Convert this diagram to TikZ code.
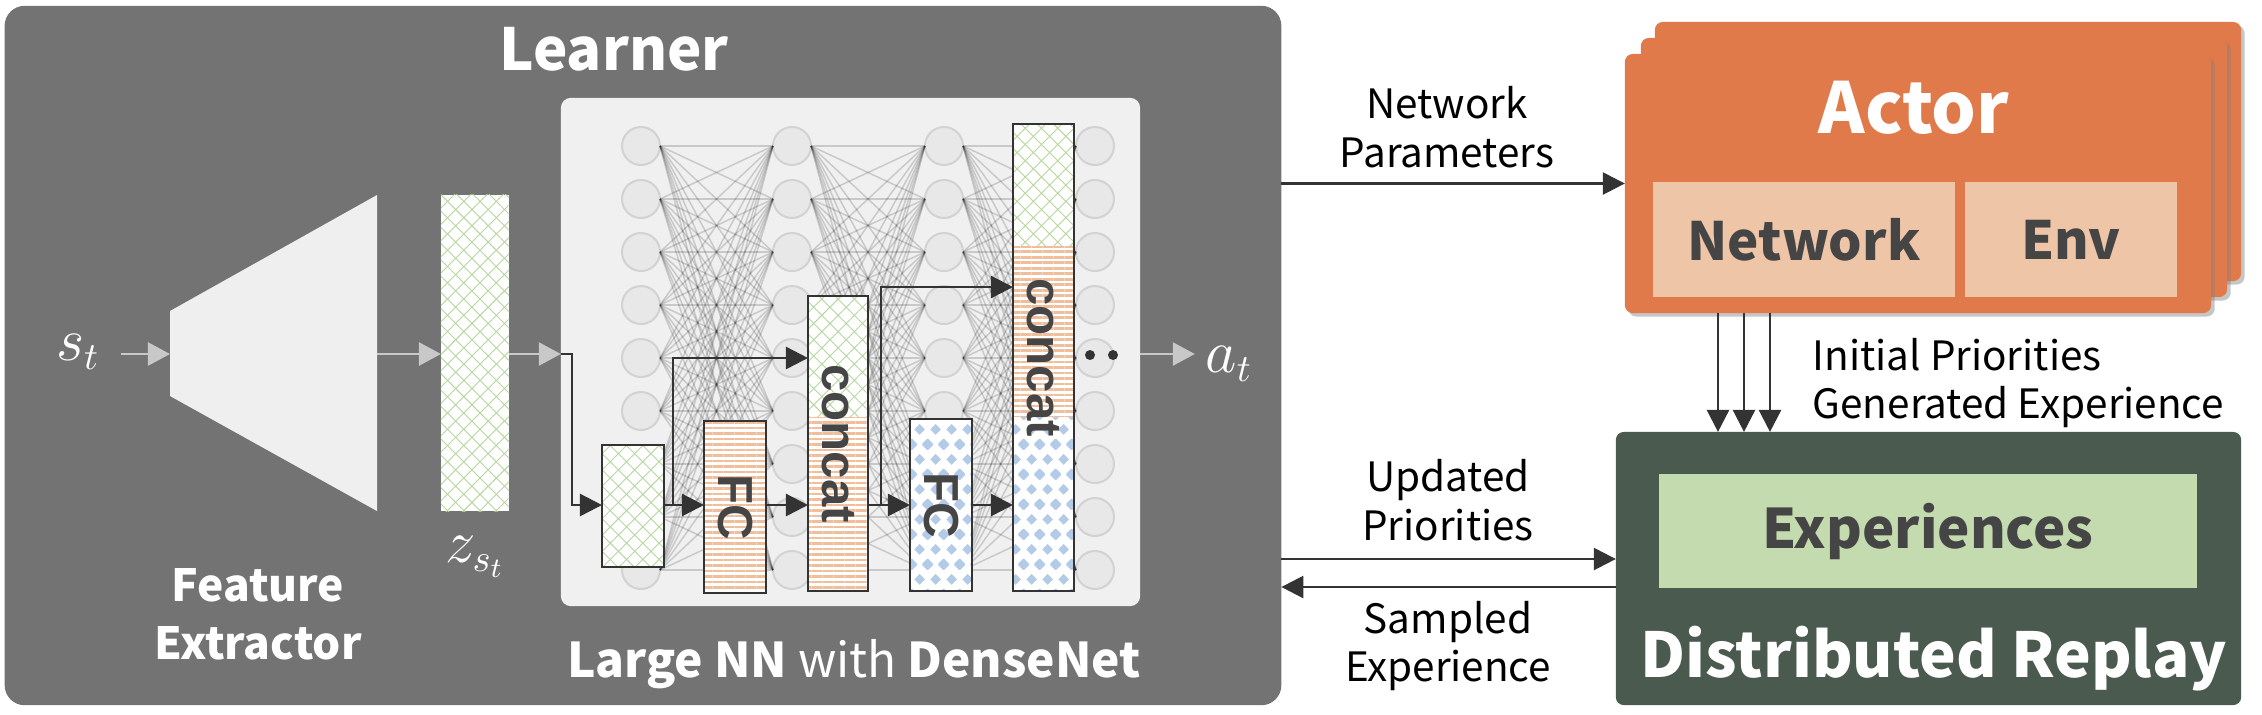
\documentclass[tikz,border=0pt]{standalone}
\usepackage{fontspec}
\setmainfont{Noto Sans CJK JP}
\newfontfamily\boxfont{Liberation Sans}
\usetikzlibrary{arrows.meta,patterns.meta,shadows,positioning}

\definecolor{learnc}{HTML}{737373}
\definecolor{innerc}{HTML}{F0F0F0}
\definecolor{trapc}{HTML}{EFEFEF}
\definecolor{garrc}{HTML}{C8C8C8}
\definecolor{neurc}{HTML}{E8E8E8}
\definecolor{neurb}{HTML}{D2D2D2}
\definecolor{darkc}{HTML}{333333}
\definecolor{txtg}{HTML}{454545}
\definecolor{latc}{HTML}{B6D69E}
\definecolor{stripc}{HTML}{F0BE9B}
\definecolor{bluec}{HTML}{B4CBE8}
\definecolor{actorc}{HTML}{E07A4B}
\definecolor{actorin}{HTML}{EFC5A7}
\definecolor{replc}{HTML}{4A5A4F}
\definecolor{expc}{HTML}{C3DBAE}

\newcommand\mkdia[2]{%
  \pgfpathmoveto{\pgfpoint{#1mm}{#2mm-0.55mm}}%
  \pgfpathlineto{\pgfpoint{#1mm+0.55mm}{#2mm}}%
  \pgfpathlineto{\pgfpoint{#1mm}{#2mm+0.55mm}}%
  \pgfpathlineto{\pgfpoint{#1mm-0.55mm}{#2mm}}%
  \pgfpathclose}
\pgfdeclarepattern{
  name=bluedia,
  type=uncolored,
  bottom left={\pgfpoint{0mm}{0mm}},
  top right={\pgfpoint{1.6mm}{3.0mm}},
  tile size={\pgfpoint{1.6mm}{3.0mm}},
  code={\mkdia{0.8}{1.5}\mkdia{0}{0}\mkdia{1.6}{0}\mkdia{0}{3.0}\mkdia{1.6}{3.0}\pgfusepath{fill}}
}

\tikzset{
  panel/.style={inner sep=0pt, outer sep=0pt},
  neuron/.style={circle, minimum size=0.38cm, inner sep=0pt, outer sep=0pt, fill=neurc, draw=neurb, line width=0.02cm},
  wire/.style={draw=black, opacity=0.16, line width=0.015cm},
  lattice/.style={fill=white,
    postaction={pattern={Lines[angle=45,distance=0.115cm,line width=0.009cm]}, pattern color=latc},
    postaction={pattern={Lines[angle=-45,distance=0.115cm,line width=0.009cm]}, pattern color=latc}},
  stripes/.style={fill=white, postaction={pattern={Lines[angle=0,distance=0.055cm,line width=0.027cm]}, pattern color=stripc}},
  diamonds/.style={fill=white, postaction={pattern=bluedia, pattern color=bluec}},
  layer/.style={draw=darkc, line width=0.025cm, inner sep=0pt, outer sep=0pt, minimum width=0.62cm, text=txtg, font=\boxfont\bfseries\fontsize{14}{14}\selectfont},
  darr/.style={draw=darkc, line width=0.025cm, -{Triangle[length=0.22cm,width=0.22cm]}},
  garr/.style={draw=garrc, line width=0.025cm, -{Triangle[length=0.22cm,width=0.23cm]}},
  title/.style={text=white, font=\bfseries\fontsize{16.5}{18}\selectfont, inner sep=0pt},
  mathlbl/.style={text=white, font=\fontsize{16}{18}\selectfont, inner sep=0.1cm},
  flow/.style={font=\fontsize{11.5}{13.9}\selectfont, align=center, inner sep=0pt},
  actorbox/.style={fill=actorc, rounded corners=0.08cm, minimum width=5.86cm, minimum height=2.59cm, inner sep=0pt, outer sep=0pt,
    drop shadow={shadow xshift=0.035cm, shadow yshift=-0.035cm, opacity=0.45}},
  inbox/.style={inner sep=0pt, outer sep=0pt, minimum height=1.15cm, text=txtg, font=\bfseries\fontsize{15}{16}\selectfont},
}

\begin{document}
\begin{tikzpicture}[x=0.01cm, y=-0.01cm]
\useasboundingbox (0,0) rectangle (2262,714);

% learner
\node[panel, fill=learnc, rounded corners=0.2cm, minimum width=12.76cm, minimum height=6.99cm] (learner) at (643,355.5) {};
\node[title, anchor=base] (learnertitle) at (614,70) {Learner};
\node[panel, fill=innerc, rounded corners=0.1cm, minimum width=5.79cm, minimum height=5.08cm] (inner) at (850.5,352) {};

% feature extractor
\fill[trapc] (170,311) -- (377,195) -- (377,511) -- (170,396) -- cycle;
\coordinate (fein) at (170,354);
\coordinate (feout) at (377,354);
\node[panel, lattice, minimum width=0.68cm, minimum height=3.16cm] (z) at (475,353) {};
\node[mathlbl] (zlbl) at (475,557) {$z_{s_t}$};
\node[title, font=\bfseries\fontsize{12.6}{16.5}\selectfont, align=center] (fetitle) at (258,614) {Feature\\Extractor};
\node[mathlbl] (st) at (78,352) {$s_t$};
\draw[garr] ([xshift=0.1cm]st.east |- fein) -- (fein);
\draw[garr] (feout) -- (z.west |- feout);
\draw[garr] (z.east |- feout) -- (inner.west |- feout);

% densenet
\foreach \c/\x in {1/641,2/792,3/944,4/1095}
  \foreach \r in {1,...,9}
    \node[neuron] (n-\c-\r) at (\x,{146+53*(\r-1)}) {};
\foreach \a/\b in {1/2,2/3,3/4}
  \foreach \i in {1,...,9}
    \foreach \j in {1,...,9}
      \draw[wire] (n-\a-\i.east) -- (n-\b-\j.west);

\fill[lattice] (602,445) rectangle (664,567);
\fill[stripes] (704,421) rectangle (766,593);
\fill[lattice] (808,296) rectangle (868,417);
\fill[stripes] (808,417) rectangle (868,591);
\fill[diamonds] (910,419) rectangle (972,591);
\fill[lattice] (1013,124) rectangle (1074,246);
\fill[stripes] (1013,246) rectangle (1074,417);
\fill[diamonds] (1013,417) rectangle (1074,591);

\node[layer, minimum height=1.22cm] (g1) at (633,506) {};
\node[layer, minimum height=1.72cm] (fc1) at (735,507) {\rotatebox{-90}{FC}};
\node[layer, minimum width=0.60cm, minimum height=2.95cm] (c1) at (838,443.5) {\rotatebox{-90}{concat}};
\node[layer, minimum height=1.72cm] (fc2) at (941,505) {\rotatebox{-90}{FC}};
\node[layer, minimum width=0.61cm, minimum height=4.67cm] (c2) at (1043.5,357.5) {\rotatebox{-90}{concat}};

\coordinate (mainrow) at (0,505);
\draw[darr] (inner.west |- feout) -- ++(11,0) |- (g1.west |- mainrow);
\draw[darr] (g1.east |- mainrow) -- (fc1.west |- mainrow);
\draw[darr] (g1.east |- mainrow) -- ++(9,0) |- (c1.west |- n-2-5);
\draw[darr] (fc1.east |- mainrow) -- (c1.west |- mainrow);
\draw[darr] (c1.east |- mainrow) -- (fc2.west |- mainrow);
\draw[darr] (c1.east |- mainrow) -- ++(13,0) |- (c2.west |- 0,287);
\draw[darr] (fc2.east |- mainrow) -- (c2.west |- mainrow);
\fill[darkc] (1090,355) circle (0.05cm) (1113,355) circle (0.05cm);

\node[mathlbl] (at) at (1229,364) {$a_t$};
\draw[garr] (inner.east |- feout) -- (at.west |- feout);
\node[title, font=\fontsize{13.6}{16}\selectfont, anchor=base] (nntitle) at (854,677) {\textbf{Large NN} with \textbf{DenseNet}};

% actors
\node[actorbox] (actor3) at (1948,151.5) {};
\node[actorbox] (actor2) at (1934,167.5) {};
\node[actorbox] (actor) at (1918,183.5) {};
\node[title, font=\bfseries\fontsize{20}{22}\selectfont, anchor=base] (actortitle) at (1914,133) {Actor};
\node[inbox, fill=actorin, minimum width=3.02cm] (net) at (1804,239.5) {Network};
\node[inbox, fill=actorin, minimum width=2.12cm] (env) at (2071,239.5) {Env};

% replay
\node[panel, fill=replc, rounded corners=0.08cm, minimum width=6.25cm, minimum height=2.73cm] (replay) at (1928.5,568.5) {};
\node[inbox, fill=expc, minimum width=5.38cm, minimum height=1.14cm, font=\bfseries\fontsize{15.5}{16}\selectfont] (exp) at (1928,531) {Experiences};
\node[title, font=\bfseries\fontsize{17.6}{20}\selectfont, anchor=base] (repltitle) at (1934,677) {Distributed Replay};

% flows
\draw[darr] (learner.east |- actor.west) -- (actor.west);
\node[flow] (netparam) at (1447,127) {Network\\Parameters};
\foreach \x in {1718,1744,1770}
  \draw[darr] (actor.south -| \x,0) -- (replay.north -| \x,0);
\node[flow, align=left, anchor=west] (initprio) at (1812,383) {Initial Priorities\\Generated Experience};
\draw[darr] (learner.east |- 0,559) -- (replay.west |- 0,559);
\node[flow] (updprio) at (1448,500) {Updated\\Priorities};
\draw[darr] (replay.west |- 0,587) -- (learner.east |- 0,587);
\node[flow] (sampexp) at (1448,646) {Sampled\\Experience};
\end{tikzpicture}
\end{document}
